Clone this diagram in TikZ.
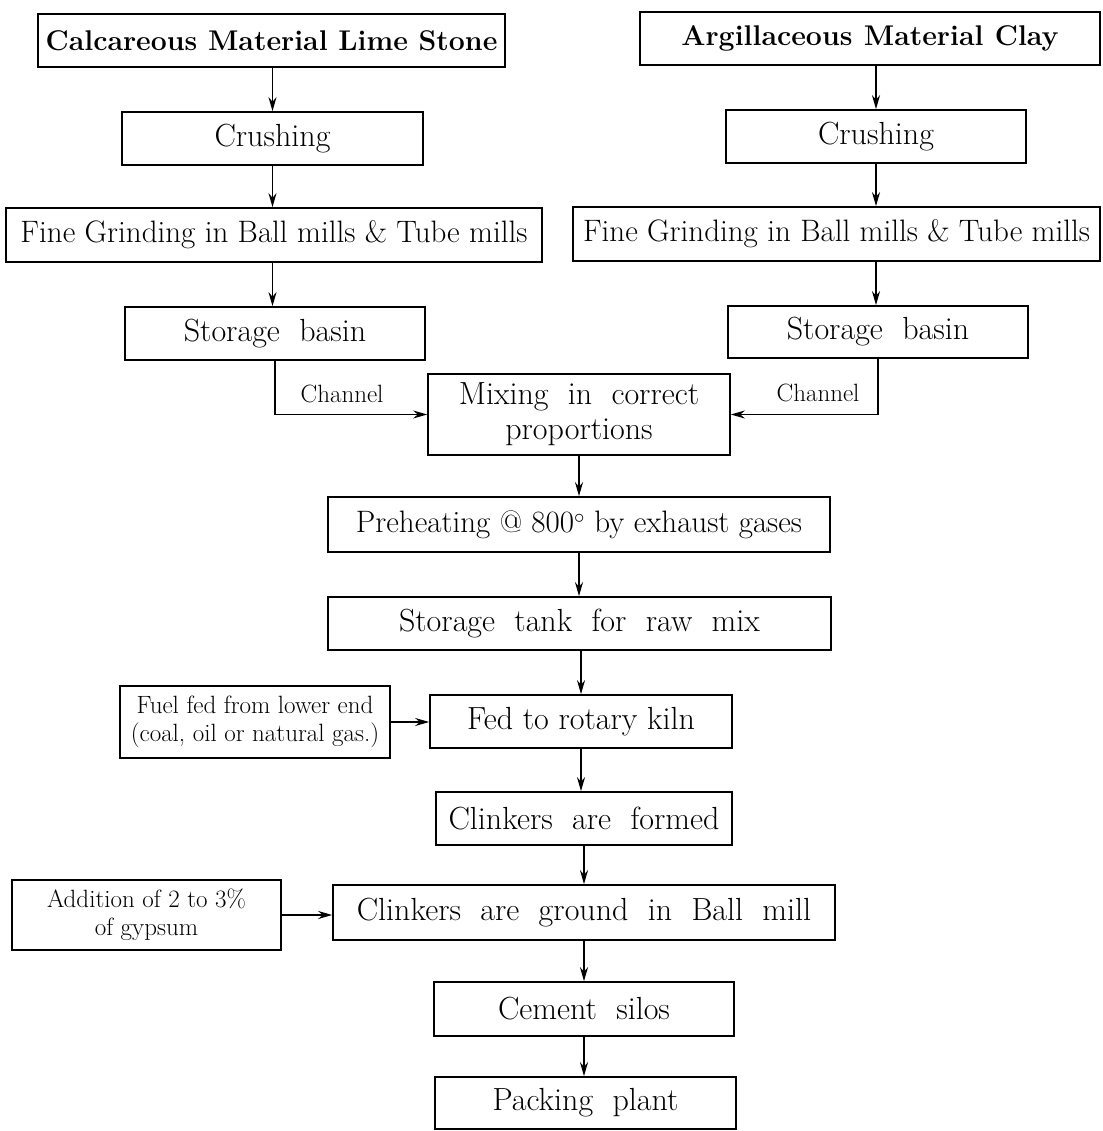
\documentclass[tikz,border=0pt]{standalone}
\usetikzlibrary{arrows.meta}
\begin{document}
\begin{tikzpicture}[x=1pt,y=-1pt,
  box/.style={draw, line width=1.7pt, inner sep=0pt, align=center, font=\fontsize{32}{35}\selectfont},
  bbox/.style={box, font=\fontsize{28.5}{33}\selectfont\bfseries},
  sbox/.style={box, line width=1.6pt, font=\fontsize{25}{28}\selectfont},
  arr/.style={line width=1.4pt, -{Stealth[length=14pt,width=8pt]}},
  lbl/.style={font=\fontsize{25}{28}\selectfont, inner sep=0pt},
  snug/.style={font=\fontsize{31}{35}\selectfont}
]
\useasboundingbox (0,0) rectangle (1102,1131);
% left column
\node[bbox, minimum width=467pt, minimum height=53pt] (cal) at (271.5,40.5) {Calcareous Material Lime Stone};
\node[box, minimum width=301pt, minimum height=53pt] (crL) at (272.5,138.5) {Crushing};
\node[box, snug, minimum width=536pt, minimum height=54pt] (fgL) at (274,235) {Fine Grinding in Ball mills \& Tube mills};
\node[box, minimum width=300pt, minimum height=53pt] (sbL) at (275,333.5) {Storage\ \ basin};
% right column
\node[bbox, minimum width=460pt, minimum height=53pt] (arg) at (870,38.5) {Argillaceous\hspace{0.4em}Material\hspace{0.4em}Clay};
\node[box, minimum width=300pt, minimum height=53pt] (crR) at (876,136.5) {Crushing};
\node[box, snug, minimum width=527pt, minimum height=54pt] (fgR) at (836.5,234) {Fine Grinding in Ball mills \& Tube mills};
\node[box, minimum width=300pt, minimum height=52pt] (sbR) at (878,332) {Storage\ \ basin};
% centre column
\node[box, minimum width=302pt, minimum height=81pt] (mix) at (579,414.5) {Mixing\ \ in\ \ correct\\proportions};
\node[box, snug, minimum width=502pt, minimum height=55pt] (pre) at (579,524.5) {Preheating @ 800$^{\circ}$ by exhaust gases};
\node[box, minimum width=503pt, minimum height=53pt] (tank) at (579.5,623.5) {Storage\ \ tank\ \ for\ \ raw\ \ mix};
\node[box, minimum width=302pt, minimum height=53pt] (kiln) at (581,721.5) {Fed to rotary kiln};
\node[sbox, minimum width=270pt, minimum height=72pt] (fuel) at (255,722) {Fuel fed from lower end\\(coal, oil or natural gas.)};
\node[box, minimum width=296pt, minimum height=53pt] (cform) at (584,818.5) {Clinkers\ \ are\ \ formed};
\node[box, minimum width=502pt, minimum height=55pt] (cground) at (584,912.5) {Clinkers\ \ are\ \ ground\ \ in\ \ Ball\ \ mill};
\node[sbox, minimum width=269pt, minimum height=70pt] (add) at (146.5,915) {Addition of 2 to 3\%\\of gypsum};
\node[box, minimum width=300pt, minimum height=54pt] (silos) at (584,1009) {Cement\ \ silos};
\node[box, minimum width=301pt, minimum height=52pt] (pack) at (585.5,1103) {Packing\ \ plant};
% labels
\node[lbl] (chL) at (342,394) {Channel};
\node[lbl] (chR) at (818,393) {Channel};
% connectors
\draw[arr] (cal.south -| crL) -- (crL.north);
\draw[arr] (crL.south) -- (crL.south |- fgL.north);
\draw[arr] (crL.south |- fgL.south) -- (crL.south |- sbL.north);
\draw[arr] (arg.south -| crR) -- (crR.north);
\draw[arr] (crR.south) -- (crR.south |- fgR.north);
\draw[arr] (crR.south |- fgR.south) -- (crR.south |- sbR.north);
\draw[arr] (sbL.south) |- (mix.west);
\draw[arr] (sbR.south) |- (mix.east);
\draw[arr] (mix.south) -- (mix.south |- pre.north);
\draw[arr] (mix.south |- pre.south) -- (mix.south |- tank.north);
\draw[arr] (kiln.north |- tank.south) -- (kiln.north);
\draw[arr] (fuel.east) -- (fuel.east -| kiln.west);
\draw[arr] (kiln.south) -- (kiln.south |- cform.north);
\draw[arr] (cform.south) -- (cform.south |- cground.north);
\draw[arr] (add.east) -- (add.east -| cground.west);
\draw[arr] (silos.north |- cground.south) -- (silos.north);
\draw[arr] (silos.south) -- (silos.south |- pack.north);
\end{tikzpicture}
\end{document}
